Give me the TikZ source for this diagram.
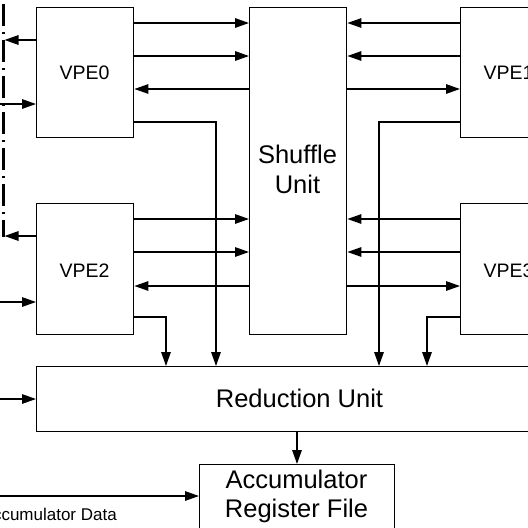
\documentclass[tikz,border=0pt]{standalone}
\usepackage{fontspec}
\setmainfont{Liberation Sans}
\usetikzlibrary{arrows.meta}
\begin{document}
\begin{tikzpicture}[x=1pt,y=-1pt,
  box/.style={draw, line width=1.4pt, rectangle, inner sep=0pt, anchor=north west},
  arr/.style={line width=1.4pt, -{Triangle[length=14pt,width=9.5pt]}},
  ln/.style={line width=1.4pt},
  lab/.style={anchor=base, inner sep=0pt, font=\fontsize{19.5}{22}\selectfont},
  big/.style={anchor=base, inner sep=0pt, font=\fontsize{25.5}{30}\selectfont},
  small/.style={anchor=base east, inner sep=0pt, font=\fontsize{17}{20}\selectfont},
  busline/.style={line width=3pt, dash pattern=on 2pt off 6pt on 22pt off 6pt},
]
\useasboundingbox (0,0) rectangle (528,528);

% boxes
\node[box, minimum width=97pt, minimum height=130pt] (vpe0) at (36,7) {};
\node[box, minimum width=97pt, minimum height=131pt] (vpe2) at (36,203) {};
\node[box, minimum width=97pt, minimum height=327pt] (shuf) at (249,7) {};
\node[box, minimum width=97pt, minimum height=130pt] (vpe1) at (460,7) {};
\node[box, minimum width=97pt, minimum height=131pt] (vpe3) at (460,203) {};
\node[box, minimum width=527pt, minimum height=65pt] (red) at (36,366) {};
\node[box, minimum width=195pt, minimum height=90pt] (acc) at (199,464) {};

% labels
\node[lab] (t0) at (84.5,79) {VPE0};
\node[lab] (t1) at (508.5,79) {VPE1};
\node[lab] (t2) at (84.5,277) {VPE2};
\node[lab] (t3) at (508.5,277) {VPE3};
\node[big] (ts1) at (297.5,163) {Shuffle};
\node[big] (ts2) at (297.5,193) {Unit};
\node[big] (tr) at (299.5,407) {Reduction Unit};
\node[big] (ta1) at (296.5,488) {Accumulator};
\node[big] (ta2) at (296.5,517) {Register File};
\node[small] (td) at (117,520) {Accumulator Data};

% bus line on the left
\coordinate (bustop) at (3,-4);
\coordinate (busbot) at (3,237);
\coordinate (busr) at (4.5,0);
\coordinate (edge) at (0,0);
\draw[busline] (bustop) -- (busbot);

% VPE0 <-> Shuffle
\draw[arr] (vpe0.east |- 0,23) -- (shuf.west |- 0,23);
\draw[arr] (vpe0.east |- 0,56) -- (shuf.west |- 0,56);
\draw[arr] (shuf.west |- 0,89) -- (vpe0.east |- 0,89);
% VPE1 <-> Shuffle
\draw[arr] (vpe1.west |- 0,23) -- (shuf.east |- 0,23);
\draw[arr] (vpe1.west |- 0,56) -- (shuf.east |- 0,56);
\draw[arr] (shuf.east |- 0,89) -- (vpe1.west |- 0,89);
% VPE2 <-> Shuffle
\draw[arr] (vpe2.east |- 0,219) -- (shuf.west |- 0,219);
\draw[arr] (vpe2.east |- 0,252) -- (shuf.west |- 0,252);
\draw[arr] (shuf.west |- 0,286) -- (vpe2.east |- 0,286);
% VPE3 <-> Shuffle
\draw[arr] (vpe3.west |- 0,219) -- (shuf.east |- 0,219);
\draw[arr] (vpe3.west |- 0,252) -- (shuf.east |- 0,252);
\draw[arr] (shuf.east |- 0,286) -- (vpe3.west |- 0,286);

% to reduction unit
\draw[arr] (vpe0.east |- 0,122) -| (red.north -| 216,0);
\draw[arr] (vpe1.west |- 0,122) -| (red.north -| 379,0);
\draw[arr] (vpe2.east |- 0,317) -| (red.north -| 166,0);
\draw[arr] (vpe3.west |- 0,317) -| (red.north -| 427,0);

% reduction to accumulator
\draw[arr] (red.south -| 297,0) -- (acc.north -| 297,0);

% left side connections
\draw[arr] (vpe0.west |- 0,40) -- (busr |- 0,40);
\draw[arr] (edge |- 0,104) -- (vpe0.west |- 0,104);
\draw[arr] (vpe2.west |- 0,236) -- (busr |- 0,236);
\draw[arr] (edge |- 0,302) -- (vpe2.west |- 0,302);
\draw[arr] (edge |- 0,399) -- (red.west |- 0,399);
\draw[arr] (edge |- 0,496) -- (acc.west |- 0,496);
\end{tikzpicture}
\end{document}
